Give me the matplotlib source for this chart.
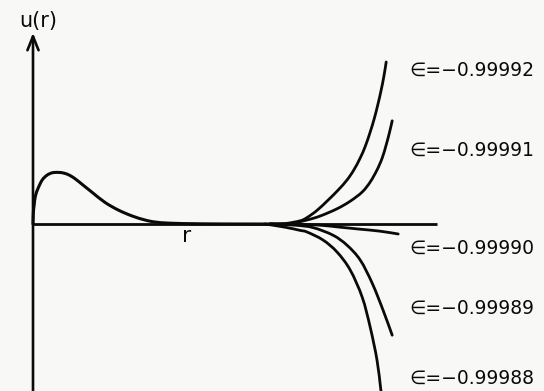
import matplotlib
matplotlib.use("Agg")
import matplotlib.pyplot as plt
from matplotlib.path import Path
from matplotlib.patches import PathPatch

# Radial wavefunction u(r): the bound-state hump near the origin, then the
# outward integration for trial energies that blows up to +/- infinity.
hump_r = [0.0, 0.01, 0.03, 0.06, 0.13, 0.23, 0.35, 0.48, 0.63, 0.78, 0.93,
          1.08, 1.23, 1.48, 1.80, 2.13, 2.48, 2.80, 3.05, 3.43, 4.18, 5.18, 5.93]
hump_u = [0.0, 0.30, 0.48, 0.70, 0.90, 1.10, 1.22, 1.28, 1.29, 1.27, 1.21,
          1.11, 0.99, 0.79, 0.54, 0.35, 0.20, 0.10, 0.05, 0.02, 0.005, 0.0, 0.0]

energies = ["-0.99992", "-0.99991", "-0.99990", "-0.99989", "-0.99988"]

tail_r = {
    "-0.99992": [5.93, 6.30, 6.68, 6.85, 7.10, 7.38, 7.63, 7.85, 8.02, 8.18,
                 8.31, 8.43, 8.53, 8.62, 8.70, 8.77, 8.83],
    "-0.99991": [5.93, 6.43, 6.85, 7.18, 7.60, 7.93, 8.23, 8.43, 8.60, 8.73,
                 8.83, 8.91, 8.98],
    "-0.99990": [5.93, 6.68, 7.18, 7.68, 8.18, 8.68, 9.13],
    "-0.99989": [5.93, 6.55, 7.00, 7.50, 7.85, 8.18, 8.48, 8.75, 8.98],
    "-0.99988": [5.80, 6.30, 6.68, 6.85, 7.25, 7.60, 7.93, 8.23, 8.43, 8.60,
                 8.69, 8.73],
}
tail_u = {
    "-0.99992": [0.0, 0.01, 0.08, 0.16, 0.34, 0.60, 0.85, 1.10, 1.35, 1.65,
                 1.95, 2.30, 2.63, 2.98, 3.33, 3.68, 4.05],
    "-0.99991": [0.0, 0.01, 0.10, 0.20, 0.38, 0.57, 0.80, 1.05, 1.35, 1.65,
                 1.98, 2.28, 2.58],
    "-0.99990": [0.0, -0.01, -0.03, -0.08, -0.13, -0.18, -0.25],
    "-0.99989": [0.0, -0.03, -0.09, -0.28, -0.53, -0.90, -1.48, -2.15, -2.78],
    "-0.99988": [0.0, -0.08, -0.16, -0.20, -0.40, -0.70, -1.15, -1.83, -2.58,
                 -3.40, -4.10, -4.40],
}
label_u = [3.85, 1.85, -0.60, -2.10, -3.85]

ink = "#0a0a0a"
paper = "#f8f8f6"


def smooth_path(xs, ys):
    """Cubic Bezier path through the given points (Catmull-Rom tangents)."""
    pts = list(zip(xs, ys))
    verts = [pts[0]]
    codes = [Path.MOVETO]
    n = len(pts)
    for i in range(n - 1):
        p0 = pts[i - 1] if i > 0 else pts[i]
        p1 = pts[i]
        p2 = pts[i + 1]
        p3 = pts[i + 2] if i + 2 < n else pts[i + 1]
        c1 = (p1[0] + (p2[0] - p0[0]) / 6.0, p1[1] + (p2[1] - p0[1]) / 6.0)
        c2 = (p2[0] - (p3[0] - p1[0]) / 6.0, p2[1] - (p3[1] - p1[1]) / 6.0)
        verts += [c1, c2, p2]
        codes += [Path.CURVE4] * 3
    return Path(verts, codes)


def draw_curve(ax, xs, ys, lw):
    ax.add_patch(PathPatch(smooth_path(xs, ys), facecolor="none",
                           edgecolor=ink, lw=lw, capstyle="round",
                           joinstyle="round"))


fig = plt.figure(figsize=(5.44, 3.91), dpi=100, facecolor=paper)
ax = fig.add_axes([0, 0, 1, 1])
ax.set_facecolor(paper)
ax.set_xlim(-0.825, 12.775)
ax.set_ylim(-4.175, 5.6)
ax.axis("off")

# axes drawn by hand: r axis and the u axis with an arrow head
ax.plot([0, 10.1], [0, 0], color=ink, lw=2.0, solid_capstyle="butt")
ax.annotate("", xy=(0, 4.78), xytext=(0, -4.3),
            arrowprops=dict(arrowstyle="->,head_length=1.0,head_width=0.4",
                            color=ink, lw=1.9, shrinkA=0, shrinkB=0))

draw_curve(ax, hump_r, hump_u, 2.2)
for eps, yl in zip(energies, label_u):
    draw_curve(ax, tail_r[eps], tail_u[eps], 2.0)
    ax.text(9.42, yl, "\u2208=" + eps.replace("-", "\u2212"), color=ink,
            fontsize=13.5, ha="left", va="center", family="DejaVu Sans")

ax.text(0.13, 5.08, "u(r)", color=ink, fontsize=15, ha="center",
        va="center", family="DejaVu Sans")
ax.text(3.84, -0.30, "r", color=ink, fontsize=16, ha="center",
        va="center", family="DejaVu Sans")

fig.savefig("out.png", dpi=100, facecolor=paper)
